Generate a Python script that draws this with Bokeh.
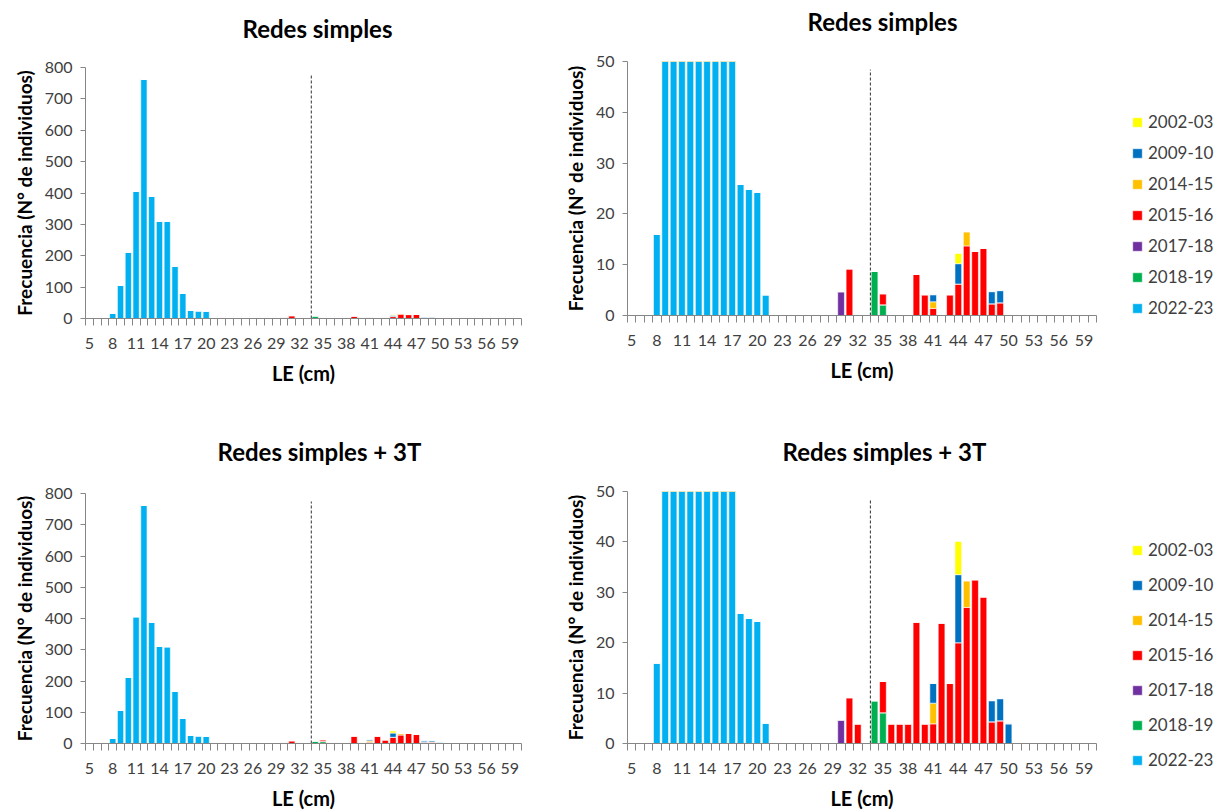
from bokeh.plotting import figure
from bokeh.models import ColumnDataSource, FixedTicker, Legend, LegendItem, Range1d, Title
from bokeh.layouts import column, row
from bokeh.embed import file_html
from bokeh.resources import INLINE

# ---------------- data ----------------
categories = list(range(5, 61))                  # LE (cm) classes
x_tick_labels = list(range(5, 60, 3))            # 5, 8, ..., 59
seasons_stack = ["2022-23", "2018-19", "2017-18", "2015-16", "2014-15", "2009-10", "2002-03"]  # bottom -> top
season_colors = ["#00B0F0", "#00B050", "#7030A0", "#FF0000", "#FFC000", "#0070C0", "#FFFF00"]
minimum_size = 33.5                               # dashed reference line (cm)

# shared: 2022-23 campaign
s2022_23 = {8: 16, 9: 106, 10: 212, 11: 406, 12: 763, 13: 389, 14: 311, 15: 310,
            16: 167, 17: 80, 18: 25.8, 19: 24.9, 20: 24.3, 21: 4.1}

# Redes simples
simple_2018_19 = {34: 8.7, 35: 2.1}
simple_2017_18 = {30: 4.7}
simple_2015_16 = {31: 9.2, 35: 2.2, 39: 8.1, 40: 4.1, 41: 1.4, 43: 4.1, 44: 6.2,
                  45: 13.7, 46: 12.6, 47: 13.2, 48: 2.3, 49: 2.5}
simple_2014_15 = {41: 1.3, 45: 2.8}
simple_2009_10 = {41: 1.4, 44: 4.0, 48: 2.4, 49: 2.4}
simple_2002_03 = {44: 2.0}

# Redes simples + 3T
t3_2018_19 = {34: 8.5, 35: 6.1}
t3_2017_18 = {30: 4.7}
t3_2015_16 = {31: 9.1, 32: 3.9, 35: 6.2, 36: 3.9, 37: 3.9, 38: 3.9, 39: 24.1, 40: 3.9,
              41: 3.9, 42: 23.9, 43: 11.9, 44: 20.0, 45: 27.0, 46: 32.5, 47: 29.1,
              48: 4.3, 49: 4.5}
t3_2014_15 = {41: 4.1, 45: 5.3}
t3_2009_10 = {41: 3.9, 44: 13.5, 48: 4.2, 49: 4.4, 50: 3.9}
t3_2002_03 = {44: 6.6}

panel_simple = [s2022_23, simple_2018_19, simple_2017_18, simple_2015_16,
                simple_2014_15, simple_2009_10, simple_2002_03]
panel_3t = [s2022_23, t3_2018_19, t3_2017_18, t3_2015_16, t3_2014_15, t3_2009_10, t3_2002_03]

FONT = "Lato"
GREY = "#868686"
TXT = "#404040"


def make_source(series):
    data = {"x": categories}
    for name, d in zip(seasons_stack, series):
        data[name] = [d.get(c, 0) for c in categories]
    return ColumnDataSource(data)


def make_title(text, offset, standoff):
    return Title(text=text, align="left", offset=offset, text_font=FONT,
                 text_font_size="24px", text_font_style="bold", text_color="#000000",
                 standoff=standoff)


def make_title_fig(text, width, height, offset, standoff):
    tf = figure(width=width, height=height, output_backend="svg", toolbar_location=None,
                x_range=Range1d(0, 1), y_range=Range1d(0, 1),
                x_axis_type=None, y_axis_type=None, min_border=0)
    tf.outline_line_color = None
    tf.xgrid.visible = False
    tf.ygrid.visible = False
    tf.add_layout(make_title(text, offset, standoff), "above")
    return tf


def make_panel(series, ymax, ystep, width, height, mb_left, mb_right, mb_top, mb_bottom,
               title=None, title_offset=0, title_standoff=0):
    p = figure(width=width, height=height, output_backend="svg", toolbar_location=None,
               x_range=Range1d(4.5, 60.5), y_range=Range1d(0, ymax),
               min_border_left=mb_left, min_border_right=mb_right,
               min_border_top=mb_top, min_border_bottom=mb_bottom)
    p.outline_line_color = None
    p.xgrid.visible = False
    p.ygrid.visible = False
    if title is not None:
        p.add_layout(make_title(title, title_offset, title_standoff), "above")

    src = make_source(series)
    p.vbar_stack(seasons_stack, x="x", width=0.8, source=src,
                 color=season_colors, line_color="white", line_width=0.6)

    p.segment(x0=[minimum_size], y0=[0], x1=[minimum_size], y1=[ymax * 0.968],
              line_color="#303030", line_width=1, line_dash="3 2")

    xa = p.xaxis[0]
    xa.ticker = FixedTicker(ticks=x_tick_labels, minor_ticks=[c - 0.5 for c in categories] + [60.5])
    xa.major_tick_out = 0
    xa.major_tick_in = 0
    xa.minor_tick_out = 7
    xa.minor_tick_in = 0
    xa.axis_line_color = GREY
    xa.minor_tick_line_color = GREY
    xa.major_label_text_font = FONT
    xa.major_label_text_font_size = "16px"
    xa.major_label_text_color = TXT
    xa.major_label_standoff = 12
    xa.axis_label = "LE (cm)"
    xa.axis_label_text_font = FONT
    xa.axis_label_text_font_size = "20px"
    xa.axis_label_text_font_style = "bold"
    xa.axis_label_text_color = "#000000"
    xa.axis_label_standoff = 9

    ya = p.yaxis[0]
    ya.ticker = FixedTicker(ticks=list(range(0, ymax + 1, ystep)))
    ya.major_tick_out = 5
    ya.major_tick_in = 0
    ya.minor_tick_out = 0
    ya.minor_tick_in = 0
    ya.axis_line_color = GREY
    ya.major_tick_line_color = GREY
    ya.major_label_text_font = FONT
    ya.major_label_text_font_size = "16px"
    ya.major_label_text_color = TXT
    ya.major_label_standoff = 8
    ya.axis_label = "Frecuencia (N° de individuos)"
    ya.axis_label_text_font = FONT
    ya.axis_label_text_font_size = "19px"
    ya.axis_label_text_font_style = "bold"
    ya.axis_label_text_color = "#000000"
    ya.axis_label_standoff = 6
    return p


def make_legend_fig(series, width, height, loc, spacing):
    # same stacked data, drawn off-range: only its legend is visible
    lf = figure(width=width, height=height, output_backend="svg", toolbar_location=None,
                x_range=Range1d(0, 1), y_range=Range1d(0, 1),
                x_axis_type=None, y_axis_type=None, min_border=0)
    lf.outline_line_color = None
    lf.xgrid.visible = False
    lf.ygrid.visible = False
    rends = lf.vbar_stack(seasons_stack, x="x", width=0.8, source=make_source(series),
                          color=season_colors, line_color="white", line_width=0.6)
    items = [LegendItem(label=n, renderers=[r]) for n, r in zip(seasons_stack, rends)][::-1]
    leg = Legend(items=items, location=loc, orientation="vertical")
    leg.border_line_color = None
    leg.background_fill_alpha = 0
    leg.glyph_width = 12
    leg.glyph_height = 12
    leg.label_height = 20
    leg.label_standoff = 5
    leg.spacing = spacing
    leg.padding = 0
    leg.margin = 0
    leg.label_text_font = FONT
    leg.label_text_font_size = "17px"
    leg.label_text_color = TXT
    lf.add_layout(leg)
    return lf


ta = make_title_fig("Redes simples", 560, 56, 157, 28)
tb = make_title_fig("Redes simples", 538, 50, 180, 8)
a = make_panel(panel_simple, 800, 100, 560, 350, 85, 39, 11, 88)
b = make_panel(panel_simple, 50, 10, 538, 356, 66, 2, 11, 91)
c = make_panel(panel_3t, 800, 100, 560, 406, 85, 39, 87, 68,
               title="Redes simples + 3T", title_offset=132, title_standoff=56)
d = make_panel(panel_3t, 50, 10, 538, 406, 66, 2, 85, 68,
               title="Redes simples + 3T", title_offset=155, title_standoff=52)
lt = make_legend_fig(panel_simple, 116, 406, (33, 88), 10)
lb = make_legend_fig(panel_3t, 116, 406, (33, 42), 14)

layout = row(column(ta, a, c), column(tb, b, d), column(lt, lb))
open("out.html", "w").write(file_html(layout, INLINE))
